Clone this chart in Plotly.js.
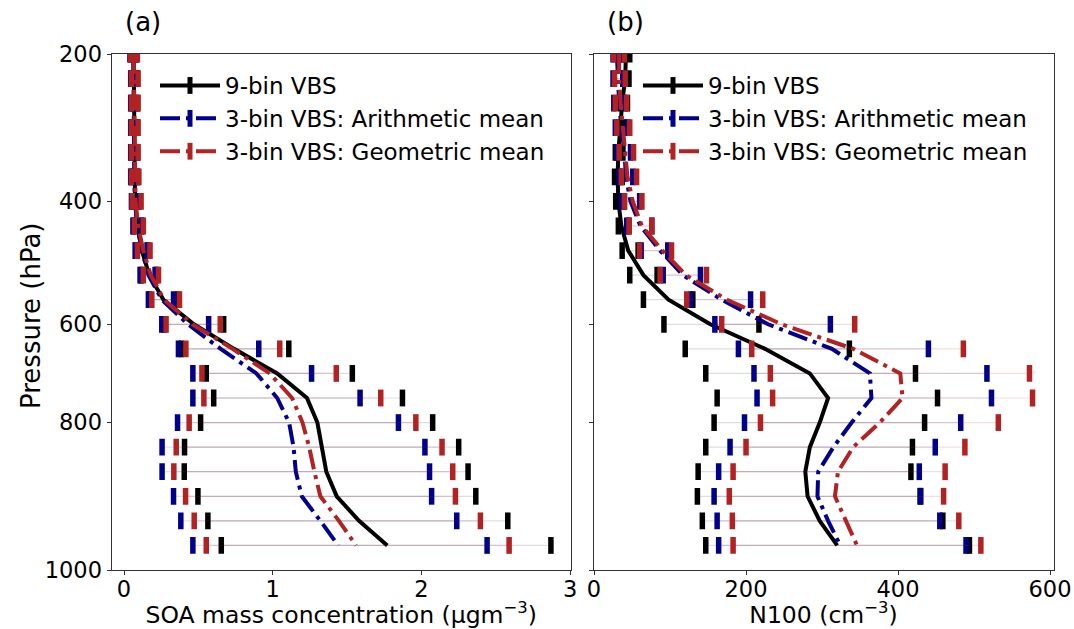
<!DOCTYPE html>
<html>
<head>
<meta charset="utf-8">
<script src="https://cdn.plot.ly/plotly-3.0.1.min.js"></script>
<style>html,body{margin:0;padding:0;background:#fff;}#chart{width:1074px;height:629px;}</style>
</head>
<body>
<div id="chart"></div>
<script>
// Model level index (0 = top, 20 = lowest level)
const levels = [0,1,2,3,4,5,6,7,8,9,10,11,12,13,14,15,16,17,18,19,20];
const pressureTickIdx = [0, 6, 11, 15, 21];
const pressureTickText = ["200", "400", "600", "800", "1000"];

const seriesNames = ["9-bin VBS", "3-bin VBS: Arithmetic mean", "3-bin VBS: Geometric mean"];

// (a) SOA mass concentration (ug m-3)
const soa9Mean  = [0.065,0.068,0.070,0.071,0.071,0.072,0.075,0.090,0.120,0.170,0.265,0.47,0.74,1.03,1.23,1.30,1.33,1.36,1.43,1.58,1.77];
const soa9Lo    = [0.045,0.050,0.050,0.050,0.050,0.050,0.055,0.065,0.080,0.115,0.170,0.27,0.385,0.553,0.603,0.515,0.407,0.405,0.497,0.564,0.654];
const soa9Hi    = [0.085,0.090,0.090,0.090,0.090,0.090,0.100,0.120,0.160,0.220,0.360,0.67,1.108,1.535,1.872,2.075,2.25,2.313,2.365,2.58,2.87];
const soaArMean = [0.062,0.065,0.067,0.068,0.068,0.069,0.073,0.090,0.120,0.165,0.255,0.43,0.65,0.89,1.03,1.11,1.14,1.155,1.195,1.32,1.44];
const soaArLo   = [0.040,0.045,0.045,0.045,0.045,0.045,0.050,0.060,0.075,0.108,0.164,0.254,0.366,0.463,0.463,0.36,0.256,0.256,0.333,0.382,0.463];
const soaArHi   = [0.080,0.085,0.085,0.085,0.085,0.090,0.100,0.115,0.155,0.209,0.333,0.569,0.906,1.261,1.587,1.845,2.023,2.054,2.068,2.237,2.441];
const soaGeMean = [0.065,0.068,0.070,0.071,0.072,0.074,0.078,0.095,0.130,0.180,0.270,0.46,0.73,0.98,1.13,1.20,1.245,1.28,1.32,1.445,1.56];
const soaGeLo   = [0.045,0.050,0.050,0.050,0.050,0.050,0.055,0.070,0.090,0.130,0.187,0.283,0.416,0.524,0.537,0.438,0.351,0.335,0.414,0.472,0.553];
const soaGeHi   = [0.090,0.095,0.095,0.095,0.095,0.100,0.115,0.130,0.175,0.232,0.373,0.647,1.047,1.427,1.726,1.962,2.138,2.21,2.228,2.396,2.589];

// (b) N100 (cm-3)
const n9Mean  = [42,41,37,34,32,31,32,36,45,65,98,153,225,284,308,297,284,278,281,297,320];
const n9Lo    = [38,38,35,33,28,27,28.5,32,37,47,65,92,120,147,162,158,147,137,136,142.5,147];
const n9Hi    = [47,46,44,40,38,37,40,46,58,83,130,217,336,423,452,435,419,417,429,459,494];
const nArMean = [30,31,33,36,40,42,48,61,87,117,168,229,313,363,365,339,315,295,294,308,324];
const nArLo   = [25,25,26,28,30,33,36,43,62,91,127,159,190,210.5,214.5,198,179,164,158,162,164];
const nArHi   = [37,38,40,44,48,51,60,76,97,140,206,311,440,517,523,482.5,449,428,430,455,489.5];
const nGeMean = [33,33,35,38,42,44,51,63,90,121,175,247,341,403,406,376,341,321,317,332,346];
const nGeLo   = [26,27,28,30,33,36,40,46,60,87,122,168,207.5,232,235,219,200,183,178,182,183];
const nGeHi   = [40,41,43,47,52,56,63,76,102,148,222,343,486,573,577,532,488,462,460,480,509];

const colors = ["#000000", "#00008b", "#b22222"];
const barColors = ["rgba(0,0,0,0.13)", "rgba(0,0,139,0.12)", "rgba(178,34,34,0.14)"];
const dashes = ["solid", "20px,6px,4px,6px", "20px,6px,4px,6px"];
const FONT = "DejaVu Sans, Liberation Sans, sans-serif";

function seriesTraces(mean, lo, hi, i, xa, ya) {
  const plus = hi.map((h, k) => h - mean[k]);
  const minus = lo.map((l, k) => mean[k] - l);
  const line = {
    x: mean, y: levels, xaxis: xa, yaxis: ya, type: "scatter", mode: "lines",
    line: {color: colors[i], width: 4, dash: dashes[i]},
    error_x: {type: "data", symmetric: false, array: plus, arrayminus: minus,
              thickness: 1.2, width: 0, color: barColors[i]},
    showlegend: false, hoverinfo: "skip"
  };
  const caps = {
    x: lo.concat(hi), y: levels.concat(levels), xaxis: xa, yaxis: ya,
    type: "scatter", mode: "markers",
    marker: {symbol: "line-ns", size: 12, color: colors[i], line: {color: colors[i], width: 5.5}},
    showlegend: false, hoverinfo: "skip"
  };
  return [line, caps];
}
function legendTrace(i, xa, ya, leg) {
  return {
    x: [null], y: [null], xaxis: xa, yaxis: ya, type: "scatter", mode: "lines+markers",
    name: seriesNames[i], legend: leg,
    line: {color: colors[i], width: 4, dash: dashes[i]},
    marker: {symbol: "line-ns", size: 12, color: colors[i], line: {color: colors[i], width: 5.5}}
  };
}

let traces = [];
const soaSets = [[soa9Mean, soa9Lo, soa9Hi], [soaArMean, soaArLo, soaArHi], [soaGeMean, soaGeLo, soaGeHi]];
const nSets = [[n9Mean, n9Lo, n9Hi], [nArMean, nArLo, nArHi], [nGeMean, nGeLo, nGeHi]];
soaSets.forEach((s, i) => { traces = traces.concat(seriesTraces(s[0], s[1], s[2], i, "x", "y")); });
nSets.forEach((s, i) => { traces = traces.concat(seriesTraces(s[0], s[1], s[2], i, "x2", "y2")); });
for (let i = 0; i < 3; i++) traces.push(legendTrace(i, "x", "y", "legend"));
for (let i = 0; i < 3; i++) traces.push(legendTrace(i, "x2", "y2", "legend2"));

const W = 1074, H = 629;
const yDom = [1 - 570 / H, 1 - 54 / H];
const axCommon = {
  showgrid: false, zeroline: false, showline: true, linecolor: "#333", linewidth: 1,
  mirror: true, ticks: "outside", ticklen: 4, tickwidth: 1, tickcolor: "#333",
  tickfont: {family: FONT, size: 22.5, color: "#000"}
};
const legCommon = {
  font: {family: FONT, size: 23, color: "#000"}, bgcolor: "rgba(0,0,0,0)",
  borderwidth: 0, xanchor: "left", yanchor: "top", itemwidth: 60, tracegroupgap: 0
};

const layout = {
  width: W, height: H, paper_bgcolor: "#fff", plot_bgcolor: "#fff",
  margin: {l: 0, r: 0, t: 0, b: 0}, showlegend: true,
  font: {family: FONT, color: "#000"},
  xaxis: Object.assign({}, axCommon, {
    domain: [111.5 / W, 571 / W], range: [-0.084, 3.005], anchor: "y",
    tickvals: [0, 1, 2, 3], ticktext: ["0", "1", "2", "3"], ticklabelstandoff: -5,
    title: {text: "SOA mass concentration (μgm<sup>−3</sup>)", font: {family: FONT, size: 23.5, color: "#000"}, standoff: 10}
  }),
  yaxis: Object.assign({}, axCommon, {
    domain: yDom, range: [21, 0], anchor: "x",
    tickvals: pressureTickIdx, ticktext: pressureTickText
  }),
  xaxis2: Object.assign({}, axCommon, {
    domain: [593.5 / W, 1053.5 / W], range: [-0.7, 604.6], anchor: "y2",
    tickvals: [0, 200, 400, 600], ticktext: ["0", "200", "400", "600"], ticklabelstandoff: -5,
    title: {text: "N100 (cm<sup>−3</sup>)", font: {family: FONT, size: 23.5, color: "#000"}, standoff: 10}
  }),
  yaxis2: Object.assign({}, axCommon, {
    domain: yDom, range: [21, 0], anchor: "x2",
    tickvals: pressureTickIdx, showticklabels: false
  }),
  legend: Object.assign({}, legCommon, {x: 155 / W, y: 1 - 64 / H}),
  legend2: Object.assign({}, legCommon, {x: 638 / W, y: 1 - 64 / H}),
  annotations: [
    {text: "(a)", xref: "paper", yref: "paper", x: 123 / W, y: 1 - 22 / H, xanchor: "left", yanchor: "middle",
     showarrow: false, font: {family: FONT, size: 26, color: "#000"}},
    {text: "(b)", xref: "paper", yref: "paper", x: 605 / W, y: 1 - 22 / H, xanchor: "left", yanchor: "middle",
     showarrow: false, font: {family: FONT, size: 26, color: "#000"}},
    {text: "Pressure (hPa)", xref: "paper", yref: "paper", x: 31 / W, y: 1 - 316 / H, xanchor: "center", yanchor: "middle",
     textangle: -90, showarrow: false, font: {family: FONT, size: 26, color: "#000"}}
  ]
};

Plotly.newPlot("chart", traces, layout, {staticPlot: true, displayModeBar: false});
</script>
</body>
</html>
